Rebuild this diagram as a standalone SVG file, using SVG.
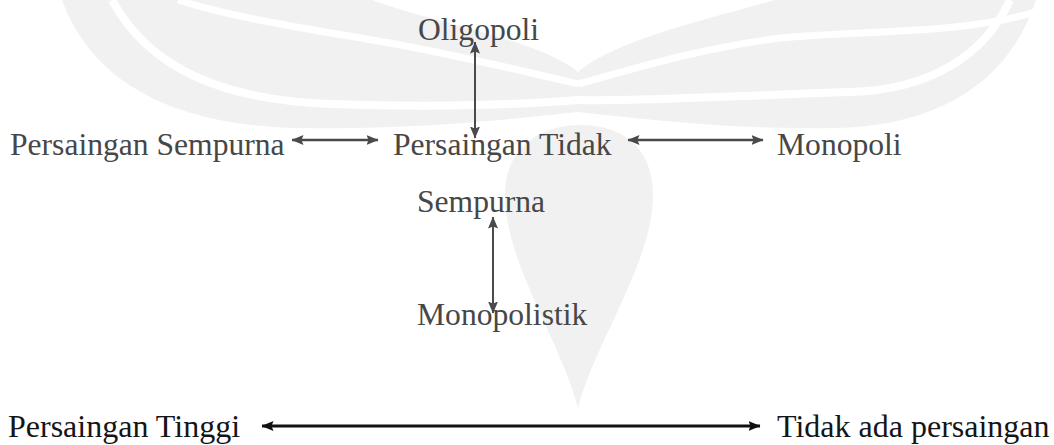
<svg xmlns="http://www.w3.org/2000/svg" width="1054" height="445" viewBox="0 0 1054 445">
  <style>
    .t { font-family: "Liberation Serif", "Times New Roman", serif; font-size: 31.6px; fill: #474747; }
    .b { font-family: "Liberation Serif", "Times New Roman", serif; font-size: 32px; fill: #151515; }
    .c { stroke: #4a4a4a; stroke-width: 2.5; fill: none; }
    .cv { stroke: #4a4a4a; stroke-width: 2; fill: none; }
    .cb { stroke: #111; stroke-width: 3.2; fill: none; }
    .wm { fill: #f1f1f1; stroke: none; }
    .ws { fill: none; stroke: #ffffff; }
  </style>
  <defs>
    <marker id="ah" viewBox="0 0 12 10" refX="11.5" refY="5" markerWidth="12" markerHeight="10" markerUnits="userSpaceOnUse" orient="auto-start-reverse">
      <path d="M0,0 L12,5 L0,10 L2,5 Z" fill="#4a4a4a"/>
    </marker>
    <marker id="ahb" viewBox="0 0 12 10" refX="11.5" refY="5" markerWidth="12" markerHeight="10" markerUnits="userSpaceOnUse" orient="auto-start-reverse">
      <path d="M0,0 L12,5 L0,10 L2,5 Z" fill="#111"/>
    </marker>
  </defs>
  <rect width="1054" height="445" fill="#ffffff"/>
  <g id="watermark">
    <path class="wm" d="M62,0 C95,90 185,126 300,128 C420,130 520,118 578,112 C636,118 730,130 835,128 C935,126 1008,85 1036,0 Z"/>
    <path class="ws" stroke-width="8" d="M112,0 C150,70 225,100 330,104 C440,108 530,104 578,100"/>
    <path class="ws" stroke-width="8" d="M1010,0 C985,55 930,90 850,92 C730,96 630,102 578,100"/>
    <path class="ws" stroke-width="7" d="M178,0 C240,20 330,32 400,45 C470,58 540,75 578,84"/>
    <path class="ws" stroke-width="7" d="M1035,12 C960,35 860,30 780,38 C700,48 630,70 578,84"/>
    <path d="M372,0 C430,22 540,40 578,72 C616,40 705,20 775,0 Z" fill="#ffffff"/>
    <path class="wm" d="M578,408 C560,340 505,262 505,195 C505,148 540,125 580,125 C625,125 653,150 653,195 C653,262 596,340 578,408 Z"/>
  </g>
  <g id="connectors">
    <line class="c" x1="292" y1="140" x2="378" y2="140" marker-start="url(#ah)" marker-end="url(#ah)"/>
    <line class="c" x1="628" y1="140" x2="763" y2="140" marker-start="url(#ah)" marker-end="url(#ah)"/>
    <line class="cv" x1="475" y1="42" x2="475" y2="138" marker-start="url(#ah)" marker-end="url(#ah)"/>
    <line class="cv" x1="493" y1="217" x2="493" y2="313" marker-start="url(#ah)" marker-end="url(#ah)"/>
    <line class="cb" x1="262" y1="426" x2="760" y2="426" marker-start="url(#ahb)" marker-end="url(#ahb)"/>
  </g>
  <g id="node-oligopoli"><text class="t" x="418" y="40">Oligopoli</text></g>
  <g id="node-persaingan-sempurna"><text class="t" x="10" y="155">Persaingan Sempurna</text></g>
  <g id="node-persaingan-tidak-sempurna">
    <text class="t" x="393" y="155">Persaingan Tidak</text>
    <text class="t" x="417" y="212">Sempurna</text>
  </g>
  <g id="node-monopoli"><text class="t" x="777" y="155">Monopoli</text></g>
  <g id="node-monopolistik"><text class="t" x="417" y="325">Monopolistik</text></g>
  <g id="node-persaingan-tinggi"><text class="b" x="8" y="437">Persaingan Tinggi</text></g>
  <g id="node-tidak-ada-persaingan"><text class="b" x="777" y="437">Tidak ada persaingan</text></g>
</svg>
